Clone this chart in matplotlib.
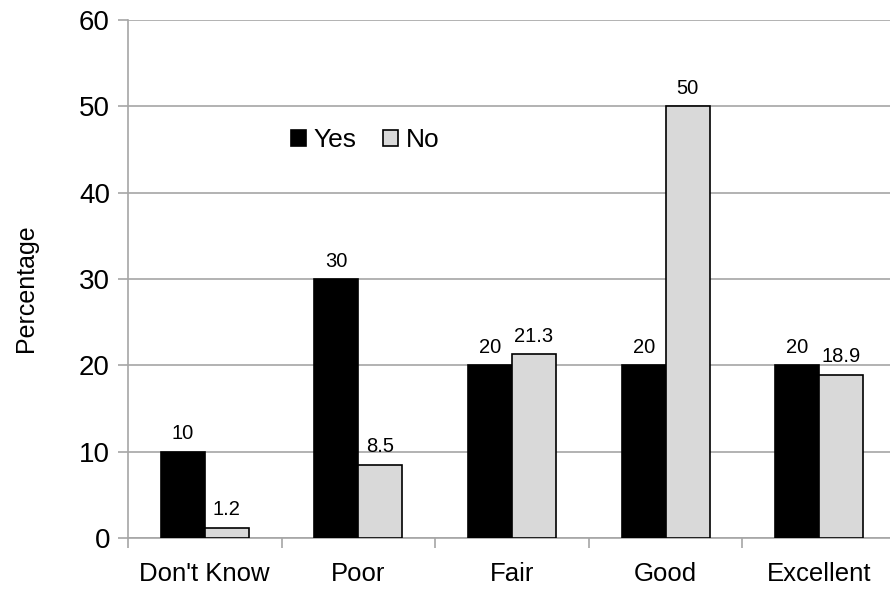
import matplotlib.pyplot as plt
import numpy as np

plt.rcParams['font.family'] = ['Liberation Sans', 'DejaVu Sans']

categories = ["Don't Know", 'Poor', 'Fair', 'Good', 'Excellent']
yes_vals = [10, 30, 20, 20, 20]
no_vals = [1.2, 8.5, 21.3, 50, 18.9]

fig = plt.figure(figsize=(8.9, 5.91), dpi=100)
ax = fig.add_axes([128 / 890, 1 - 538 / 591, 768 / 890, 518 / 591])

x = np.arange(len(categories))
w = 0.286
grid_col = '#a6a6a6'

b1 = ax.bar(x - w / 2, yes_vals, w, color='black', edgecolor='black', linewidth=1.2,
            label='Yes', zorder=3)
b2 = ax.bar(x + w / 2, no_vals, w, color='#d9d9d9', edgecolor='black', linewidth=1.2,
            label='No', zorder=3)

# value labels above each bar
for rects, vals in ((b1, yes_vals), (b2, no_vals)):
    for r, v in zip(rects, vals):
        ax.annotate(f'{v:g}', (r.get_x() + r.get_width() / 2, v),
                    xytext=(0, 6), textcoords='offset points',
                    ha='center', va='bottom', fontsize=14.5)

ax.set_xlim(-0.5, len(categories) - 0.5)
ax.set_ylim(0, 60)
ax.set_yticks(range(0, 61, 10))
ax.tick_params(axis='y', labelsize=20, color=grid_col, length=7, width=1.2, pad=6)
ax.yaxis.grid(True, color=grid_col, linewidth=1.2, zorder=0)
ax.set_axisbelow(True)

ax.set_xticks(x)
ax.set_xticklabels(categories, fontsize=18.5)
ax.set_xticks(np.arange(len(categories) + 1) - 0.5, minor=True)
ax.tick_params(axis='x', which='major', length=0, pad=17)
ax.tick_params(axis='x', which='minor', length=7, width=1.2, color=grid_col)

for side in ('top', 'right'):
    ax.spines[side].set_visible(False)
for side in ('left', 'bottom'):
    ax.spines[side].set_color(grid_col)
    ax.spines[side].set_linewidth(1.2)

ax.set_ylabel('Percentage', fontsize=18)
ax.yaxis.set_label_coords(-(128 - 38) / 768, 0.483)

ax.legend(loc='center left', bbox_to_anchor=(0.195, 0.768), ncol=2, frameon=False,
          fontsize=19, borderpad=0, handlelength=0.57, handleheight=0.57,
          handletextpad=0.3, columnspacing=1.0)

fig.savefig('out.png', dpi=100)
